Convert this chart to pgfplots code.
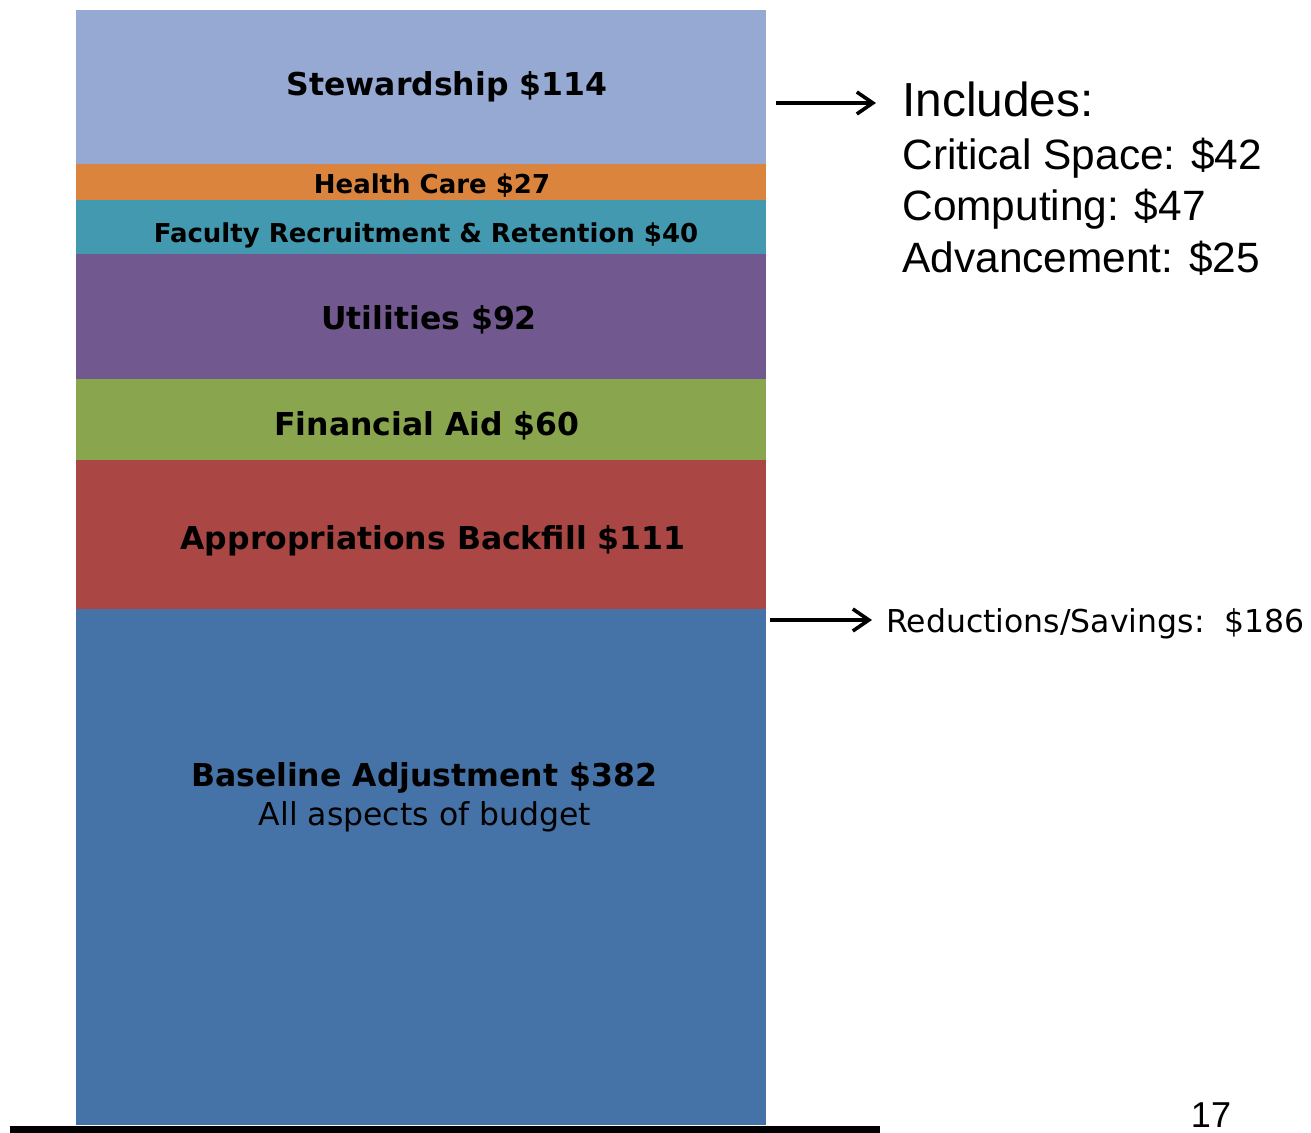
\documentclass[border=0pt]{standalone}
\usepackage{pgfplots}
\pgfplotsset{compat=1.18}
\usepackage{fontspec}
\usetikzlibrary{arrows.meta}
\newfontfamily\verd{DejaVu Sans}
\newfontfamily\arial{Liberation Sans}

\definecolor{cBase}{HTML}{4572A7}
\definecolor{cApp}{HTML}{AA4643}
\definecolor{cAid}{HTML}{89A54E}
\definecolor{cUtil}{HTML}{71588F}
\definecolor{cFac}{HTML}{4399B0}
\definecolor{cHealth}{HTML}{DB843D}
\definecolor{cStew}{HTML}{95A9D2}

\tikzset{
    lbl/.style={anchor=base, inner sep=0pt, text=black, font=\verd\bfseries\fontsize{15.75}{18}\selectfont},
    sml/.style={anchor=base, inner sep=0pt, text=black, font=\verd\bfseries\fontsize{13}{15}\selectfont},
    rt/.style={anchor=base west, inner sep=0pt, text=black, font=\arial\fontsize{21.2}{25}\selectfont},
    arr/.style={line width=1.8pt, -{Straight Barb[length=8pt, width=11pt, line width=1.8pt]}},
}

\begin{document}
\begin{tikzpicture}
\begin{axis}[
    hide axis,
    scale only axis,
    width=345pt, height=557.5pt,
    xmin=76, xmax=766,
    ymin=0, ymax=826,
    ybar stacked,
    bar width=690,
    clip=false,
]
\addplot[fill=cBase, draw=none] coordinates {(421,382)};
\addplot[fill=cApp, draw=none] coordinates {(421,111)};
\addplot[fill=cAid, draw=none] coordinates {(421,60)};
\addplot[fill=cUtil, draw=none] coordinates {(421,92)};
\addplot[fill=cFac, draw=none] coordinates {(421,40)};
\addplot[fill=cHealth, draw=none] coordinates {(421,27)};
\addplot[fill=cStew, draw=none] coordinates {(421,114)};

% anchor points for the labels in the bar
\coordinate (pStew) at (axis cs:447,762.3);
\coordinate (pHealth) at (axis cs:432,689.7);
\coordinate (pFac) at (axis cs:426,654.1);
\coordinate (pUtil) at (axis cs:429,589.3);
\coordinate (pAid) at (axis cs:427,510.8);
\coordinate (pApp) at (axis cs:433,426.3);
\coordinate (pBase) at (axis cs:424,251.1);
\coordinate (pAll) at (axis cs:425,222.2);

% right side notes
\draw[arr] (axis cs:776,757.1) -- (axis cs:876,757.1);
\node[rt, font=\arial\fontsize{23.9}{28}\selectfont] at (axis cs:902,747.4) {Includes:};
\node[rt] at (axis cs:902,707.5) {Critical Space: \$42};
\node[rt] at (axis cs:902,669.7) {Computing: \$47};
\node[rt] at (axis cs:902,631.2) {Advancement: \$25};
\draw[arr] (axis cs:770,374.1) -- (axis cs:872,374.1);
\node[rt, font=\verd\fontsize{15.75}{18}\selectfont] at (axis cs:886,364.5) {Reductions/Savings:\ \ \$186};

% base line and page number
\draw[line width=3.5pt] (axis cs:10,-3.0) -- (axis cs:880,-3.0);
\node[anchor=base, inner sep=0pt, font=\arial\fontsize{18}{21}\selectfont] at (axis cs:1211,-1.5) {17};

\coordinate (bl) at (axis cs:0,-5.19);
\coordinate (tr) at (axis cs:1311,833.4);
\end{axis}

\node[lbl] at (pStew) {Stewardship \$114};
\node[sml] at (pHealth) {Health Care \$27};
\node[sml] at (pFac) {Faculty Recruitment \& Retention \$40};
\node[lbl] at (pUtil) {Utilities \$92};
\node[lbl] at (pAid) {Financial Aid \$60};
\node[lbl] at (pApp) {Appropriations Backfill \$111};
\node[lbl] at (pBase) {Baseline Adjustment \$382};
\node[lbl, font=\verd\fontsize{15.75}{18}\selectfont] at (pAll) {All aspects of budget};

\pgfresetboundingbox
\path (bl) rectangle (tr);
\end{tikzpicture}
\end{document}
